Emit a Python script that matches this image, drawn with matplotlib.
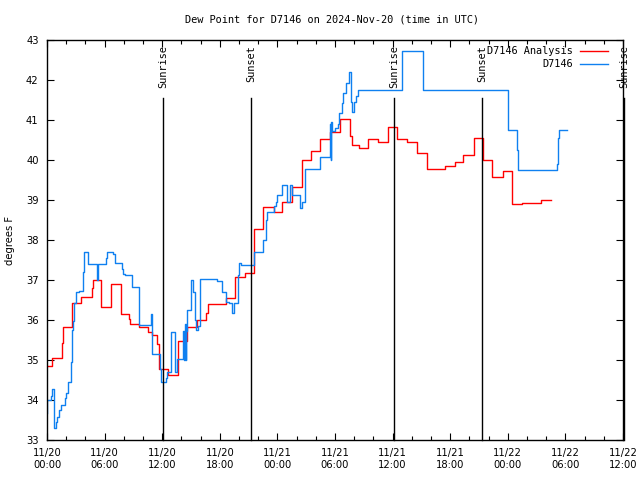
import datetime as dt
import matplotlib
matplotlib.use('Agg')
import matplotlib.pyplot as plt
import matplotlib.dates as mdates

# hours since 2024-11-20 00:00 UTC where the value changes (step data)
analysis_hours = [0.0, 0.55, 1.6, 1.7, 2.64, 3.57, 4.66, 4.76, 5.66, 6.7, 7.67, 8.57, 8.65,
                  9.61, 10.55, 10.97, 11.5, 11.63, 12.64, 13.61, 14.55, 15.66, 16.56, 16.8,
                  18.65, 19.58, 20.63, 21.6, 22.53, 23.65, 24.45, 25.49, 26.53, 27.47, 28.44,
                  29.48, 30.52, 31.56, 31.74, 32.5, 33.47, 34.51, 35.55, 36.43, 37.53, 38.57,
                  39.55, 41.46, 42.5, 43.37, 44.48, 45.45, 46.39, 47.53, 48.47, 49.45, 51.43,
                  52.47]
analysis_vals = [34.86, 35.04, 35.42, 35.82, 36.42, 36.58, 36.81, 36.99, 36.33, 36.9, 36.15,
                 36.02, 35.9, 35.83, 35.71, 35.62, 35.39, 34.77, 34.62, 35.48, 35.83, 36.0,
                 36.17, 36.4, 36.56, 37.07, 37.17, 38.27, 38.82, 38.71, 38.94, 39.32, 40.0,
                 40.22, 40.53, 40.71, 41.02, 40.6, 40.37, 40.3, 40.52, 40.45, 40.82, 40.52,
                 40.46, 40.17, 39.77, 39.85, 39.96, 40.12, 40.54, 40.0, 39.58, 39.73, 38.9,
                 38.92, 38.99, 38.99]

obs_hours = [0.0, 0.05, 0.45, 0.55, 0.73, 0.9, 1.0, 1.3, 1.43, 1.84, 1.95, 2.19, 2.47, 2.64,
             2.74, 2.85, 3.02, 3.3, 3.78, 3.89, 4.3, 5.24, 5.31, 6.11, 6.28, 6.91, 7.05, 7.78,
             7.95, 8.16, 8.82, 9.62, 10.83, 10.9, 10.97, 11.77, 11.88, 12.4, 12.47, 12.92,
             13.37, 13.54, 14.2, 14.3, 14.37, 14.45, 14.52, 14.6, 14.8, 15.0, 15.24, 15.4,
             15.5, 15.7, 15.9, 17.67, 18.2, 18.65, 18.99, 19.24, 19.45, 19.86, 20.03, 20.24,
             21.6, 22.53, 22.78, 22.88, 23.65, 23.85, 23.99, 24.51, 25.03, 25.3, 25.49,
             26.35, 26.6, 26.9, 28.4, 29.48, 29.55, 29.62, 29.66, 30.0, 30.34, 30.45, 30.7,
             30.87, 31.15, 31.49, 31.67, 31.8, 31.98, 32.19, 32.36, 36.95, 39.14, 48.05,
             49.0, 49.03, 53.09, 53.23, 53.36, 54.14]
obs_vals = [33.67, 34.0, 34.1, 34.27, 33.29, 33.45, 33.57, 33.75, 33.88, 34.05, 34.17, 34.44,
            34.95, 35.75, 35.97, 36.42, 36.71, 36.73, 37.19, 37.69, 37.39, 37.0, 37.39, 37.55,
            37.71, 37.66, 37.43, 37.27, 37.15, 37.12, 36.83, 35.88, 36.15, 35.88, 35.14,
            34.77, 34.44, 34.55, 34.71, 35.71, 34.71, 35.02, 35.72, 35.0, 35.9, 35.0, 35.72,
            36.25, 36.25, 37.0, 36.71, 36.0, 35.75, 35.85, 37.02, 36.98, 36.71, 36.46, 36.42,
            36.17, 36.42, 37.12, 37.42, 37.38, 37.71, 38.0, 38.5, 38.69, 38.86, 38.95, 39.12,
            39.37, 38.95, 39.37, 39.12, 38.79, 38.95, 39.77, 40.07, 40.9, 40.0, 40.95, 40.72,
            40.8, 40.9, 41.17, 41.42, 41.67, 41.92, 42.21, 41.46, 41.21, 41.46, 41.6, 41.75,
            42.73, 41.75, 40.75, 40.25, 39.75, 39.9, 40.55, 40.75, 40.75]

sun_hours = [12.08, 21.25, 36.15, 45.3, 60.15]
sun_labels = ['Sunrise', 'Sunset', 'Sunrise', 'Sunset', 'Sunrise']

start = dt.datetime(2024, 11, 20, 0, 0)


def to_time(hours):
    return [start + dt.timedelta(hours=h) for h in hours]


mono = 'DejaVu Sans Mono'
plt.rcParams['font.family'] = 'DejaVu Sans'
plt.rcParams['font.size'] = 7.5

fig = plt.figure(figsize=(6.4, 4.8), dpi=100)
ax = fig.add_axes([47 / 640, 40 / 480, 576 / 640, 400 / 480])

ax.step(to_time(analysis_hours), analysis_vals, where='post', color='#ff0000',
        lw=1.0, label='D7146 Analysis')
ax.step(to_time(obs_hours), obs_vals, where='post', color='#0f80f0',
        lw=1.0, label='D7146')

for h, lab in zip(sun_hours, sun_labels):
    t = start + dt.timedelta(hours=h)
    ax.plot([t, t], [33, 41.55], color='black', lw=1.0, clip_on=False)
    ax.text(t, 42.88, lab, rotation=90, ha='center', va='top', fontsize=7.4,
            family=mono, clip_on=False)

ax.set_xlim(start, start + dt.timedelta(hours=60))
ax.set_ylim(33, 43)
ax.set_yticks(range(33, 44))
ax.xaxis.set_major_locator(mdates.HourLocator(byhour=[0, 6, 12, 18]))
ax.xaxis.set_minor_locator(mdates.HourLocator(interval=2))
ax.xaxis.set_major_formatter(mdates.DateFormatter('%m/%d\n%H:%M'))
ax.tick_params(which='both', direction='in', top=True, right=True, width=0.8,
               labelsize=7.2)
ax.tick_params(which='major', length=5, pad=6)
ax.tick_params(which='minor', length=3)
for s in ax.spines.values():
    s.set_linewidth(1.0)

ax.set_ylabel('degrees F', labelpad=8, fontsize=7.2)
fig.text(332 / 640, 1 - 19 / 480, 'Dew Point for D7146 on 2024-Nov-20 (time in UTC)',
         ha='center', va='center', fontsize=7.4, family=mono)

leg = ax.legend(loc='upper right', frameon=False, markerfirst=False, handlelength=2.7,
                handletextpad=0.7, borderaxespad=0.2, labelspacing=0.3,
                bbox_to_anchor=(0.985, 1.0), prop={'family': mono, 'size': 7.4})

fig.savefig('out.png', dpi=100)
